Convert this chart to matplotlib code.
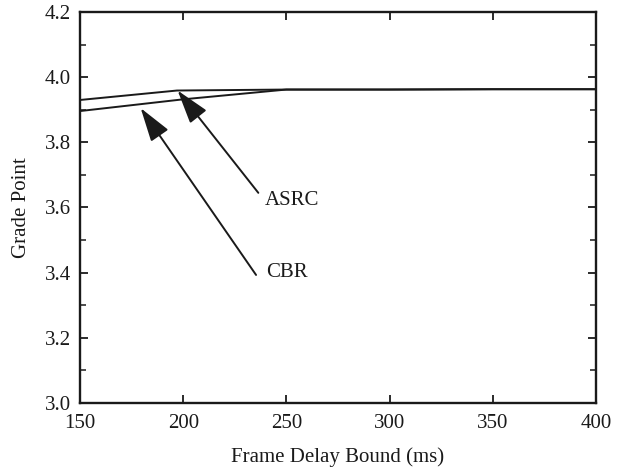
import matplotlib
matplotlib.use("Agg")
import matplotlib.pyplot as plt
from matplotlib.ticker import MultipleLocator

plt.rcParams['font.family'] = ['Liberation Serif', 'DejaVu Serif']

x_asrc = [150, 197, 250, 300, 350, 400]
y_asrc = [3.930, 3.959, 3.962, 3.962, 3.963, 3.963]
x_cbr = [150, 200, 250, 300, 350, 400]
y_cbr = [3.896, 3.932, 3.962, 3.962, 3.963, 3.963]

xticks = [150, 200, 250, 300, 350, 400]
yticks = [3.0, 3.2, 3.4, 3.6, 3.8, 4.0, 4.2]

ink = '#1a1a1a'
fs = 15

fig = plt.figure(figsize=(6.21, 4.73), dpi=100)
ax = fig.add_axes([80/621, 1-403/473, (596-80)/621, (403-12)/473])

ax.plot(x_asrc, y_asrc, color=ink, lw=1.4)
ax.plot(x_cbr, y_cbr, color=ink, lw=1.4)

ax.set_xlim(150, 400)
ax.set_ylim(3.0, 4.2)
ax.set_xticks(xticks)
ax.set_yticks(yticks)
ax.set_xticklabels([str(v) for v in xticks])
ax.set_yticklabels([f"{v:.1f}" for v in yticks])
ax.yaxis.set_minor_locator(MultipleLocator(0.1))
ax.tick_params(direction='in', which='both', top=True, right=True, colors=ink)
ax.tick_params(which='major', length=6, width=1.3, labelsize=fs)
ax.tick_params(which='minor', length=4, width=1.1)
ax.tick_params(axis='x', which='major', pad=8)
ax.tick_params(axis='y', which='major', pad=6.5)
for s in ax.spines.values():
    s.set_linewidth(1.7)
    s.set_color(ink)

ax.set_xlabel('Frame Delay Bound (ms)', fontsize=fs, labelpad=10.5, color=ink)
ax.set_ylabel('Grade Point', fontsize=fs, labelpad=10, color=ink)

arrow_kw = dict(arrowstyle='-|>,head_length=2.1,head_width=0.65', color=ink, lw=1.4,
                shrinkA=0, shrinkB=0, mutation_scale=10)
ax.annotate('', xy=(197.3, 3.959), xytext=(236.4, 3.645), arrowprops=arrow_kw)
ax.annotate('', xy=(179.4, 3.905), xytext=(235.3, 3.393), arrowprops=arrow_kw)
ax.text(239.6, 3.623, 'ASRC', fontsize=fs, va='center', ha='left', color=ink)
ax.text(240.4, 3.402, 'CBR', fontsize=fs, va='center', ha='left', color=ink)

fig.savefig('out.png', dpi=100)
